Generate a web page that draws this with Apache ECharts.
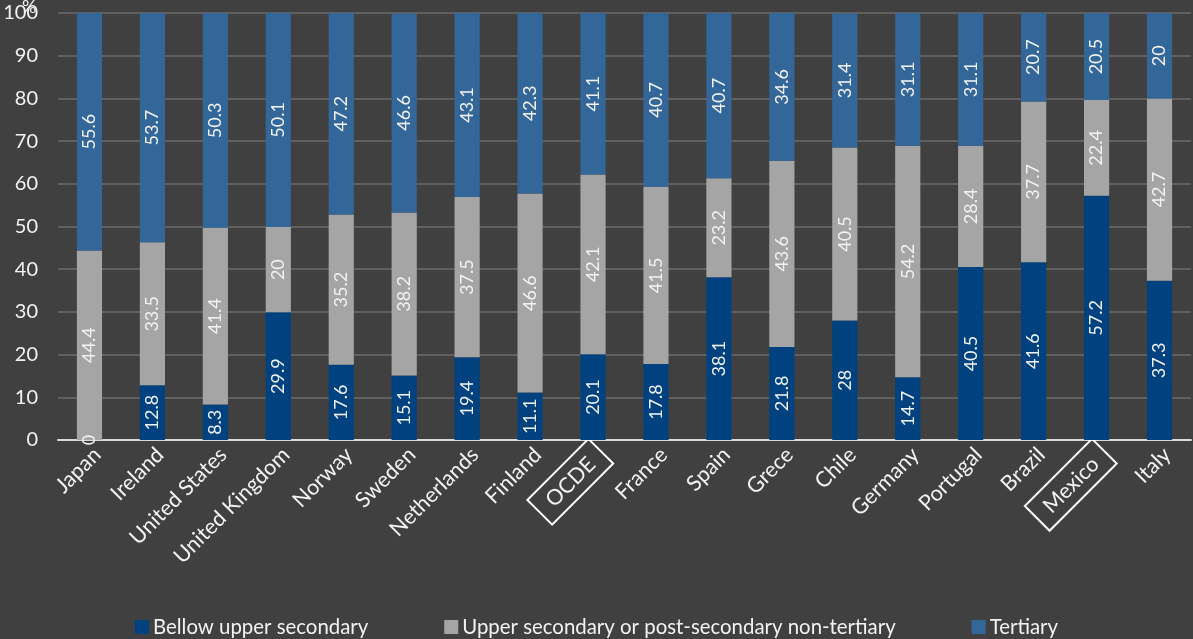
<!DOCTYPE html>
<html><head><meta charset="utf-8">
<script src="https://cdn.jsdelivr.net/npm/echarts@6/dist/echarts.min.js"></script>
<style>html,body{margin:0;padding:0;background:#404040;}#c{width:1193px;height:639px;}</style>
</head><body><div id="c"></div>
<script>
const categories = ["Japan","Ireland","United States","United Kingdom","Norway","Sweden","Netherlands","Finland","OCDE","France","Spain","Grece","Chile","Germany","Portugal","Brazil","Mexico","Italy"];
const bellow = [0,12.8,8.3,29.9,17.6,15.1,19.4,11.1,20.1,17.8,38.1,21.8,28,14.7,40.5,41.6,57.2,37.3];
const upper = [44.4,33.5,41.4,20,35.2,38.2,37.5,46.6,42.1,41.5,23.2,43.6,40.5,54.2,28.4,37.7,22.4,42.7];
const tertiary = [55.6,53.7,50.3,50.1,47.2,46.6,43.1,42.3,41.1,40.7,40.7,34.6,31.4,31.1,31.1,20.7,20.5,20];
const seriesNames = ["Bellow upper secondary","Upper secondary or post-secondary non-tertiary","Tertiary"];
const boxed = ["OCDE","Mexico"];
const yTicks = [0,10,20,30,40,50,60,70,80,90,100];

const FONT = "Lato";
const colors = ["#00427f","#a5a5a5","#33679a"];
const chart = echarts.init(document.getElementById('c'));
const mk = (name, data, color) => ({
  name, type:'bar', stack:'s', data, barWidth:'40%',
  itemStyle:{color},
  label:{show:true, position:'inside', rotate:90, color:'#f2f2f2', fontFamily:FONT, fontSize:18,
    formatter: p => String(p.value)},
  emphasis:{disabled:true}
});
chart.setOption({
  backgroundColor:'#404040',
  animation:false,
  textStyle:{fontFamily:FONT},
  grid:{left:58, right:2, top:13, bottom:199, containLabel:false},
  graphic:[{type:'text', left:22, top:-2, style:{text:'%', fill:'#f2f2f2', font:'18px '+FONT}}],
  legend:{top:612, left:'center', itemGap:76, itemWidth:14, itemHeight:14, icon:'rect',
    textStyle:{color:'#f2f2f2', fontFamily:FONT, fontSize:20.4, padding:[0,0,0,-1]},
    data:seriesNames},
  xAxis:{type:'category', data:categories,
    axisLine:{lineStyle:{color:'#d9d9d9', width:2}},
    axisTick:{show:false},
    axisLabel:{interval:0, rotate:45, color:'#f2f2f2', fontFamily:FONT, fontSize:21.5, margin:19,
      padding:[0,-11,0,0],
      formatter: v => boxed.includes(v) ? '{b|'+v+'}' : v,
      rich:{b:{color:'#f2f2f2', fontFamily:FONT, fontSize:21.5, borderColor:'#ffffff', borderWidth:2, padding:[7,13,6,13]}}}},
  yAxis:{type:'value', min:yTicks[0], max:yTicks[yTicks.length-1], interval:yTicks[1]-yTicks[0],
    axisLine:{show:false}, axisTick:{show:false},
    splitLine:{lineStyle:{color:'#6b6b6b', width:1.5}},
    axisLabel:{color:'#f2f2f2', fontFamily:FONT, fontSize:20, margin:20}},
  series:[mk(seriesNames[0], bellow, colors[0]), mk(seriesNames[1], upper, colors[1]), mk(seriesNames[2], tertiary, colors[2])]
});
</script></body></html>
